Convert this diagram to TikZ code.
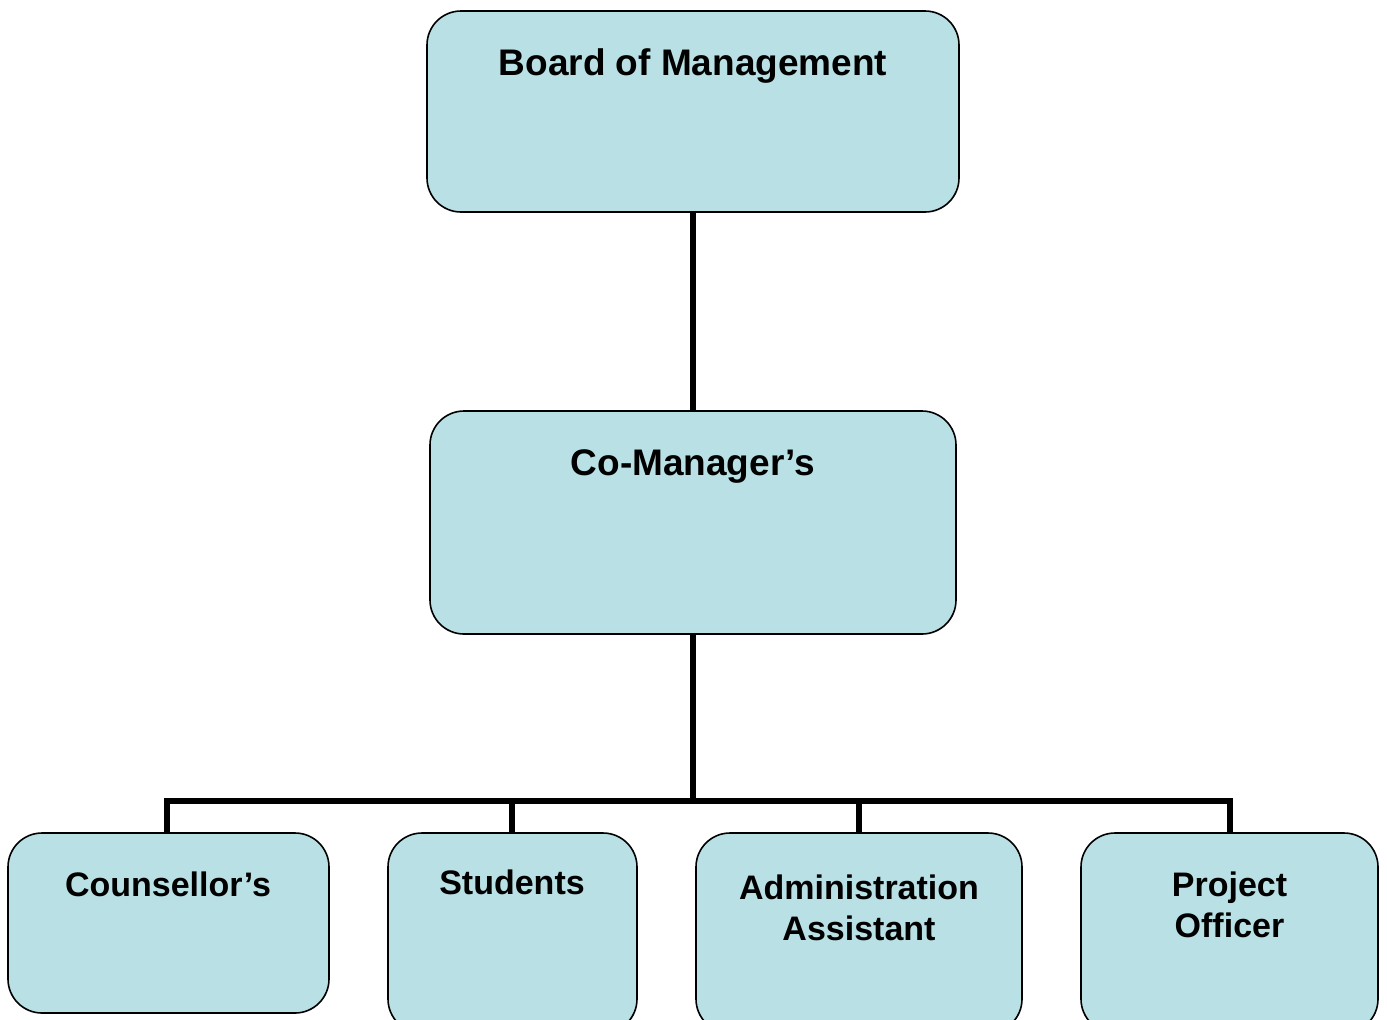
\documentclass[tikz,border=0pt]{standalone}
\usepackage{fontspec}
\setmainfont{Liberation Sans}
\definecolor{boxfill}{RGB}{185,224,228}
\begin{document}
\begin{tikzpicture}[x=0.5pt,y=-0.5pt,
  box/.style={draw=black, line width=0.8pt, fill=boxfill, rounded corners=17pt, inner sep=0pt},
  bigtxt/.style={font=\fontsize{18.5}{21}\selectfont\bfseries, anchor=base, inner sep=0pt, align=center},
  smalltxt/.style={font=\fontsize{17}{20.3}\selectfont\bfseries, anchor=base, inner sep=0pt, align=center},
  conn/.style={draw=black, line width=2.6pt, line join=miter}]
\useasboundingbox (0,0) rectangle (1387,1019);
\clip (0,0) rectangle (1387,1019);
% boxes
\node[box, minimum width=266pt, minimum height=100.5pt] (board) at (693,111.5) {};
\node[box, minimum width=263pt, minimum height=111.5pt] (co) at (693,522.5) {};
\node[box, minimum width=160.5pt, minimum height=90pt] (couns) at (168.5,923) {};
\node[box, minimum width=124.5pt, minimum height=100pt] (stud) at (512.5,933) {};
\node[box, minimum width=163pt, minimum height=100pt] (admin) at (859,933) {};
\node[box, minimum width=148.5pt, minimum height=100pt] (proj) at (1229.5,933) {};
% texts
\node[bigtxt] (tboard) at (693,75) {Board of Management};
\node[bigtxt] (tco) at (693,475) {Co-Manager’s};
\node[smalltxt] (tcouns) at (168,896) {Counsellor’s};
\node[smalltxt] (tstud) at (512,894) {Students};
\node[smalltxt] (tadmin) at (859,940) {Administration\\Assistant};
\node[smalltxt] (tproj) at (1229.5,937) {Project\\Officer};
% connectors
\coordinate (j) at (693,801);
\coordinate (js) at (512,801);
\coordinate (ja) at (859,801);
\draw[conn] (board.south) -- (co.north);
\draw[conn] (co.south) -- (j);
\draw[conn] (j) -| (167,833);
\draw[conn] (j) -| (1230,833);
\draw[conn] (js) -- (js |- stud.north);
\draw[conn] (ja) -- (admin.north);
\end{tikzpicture}
\end{document}
